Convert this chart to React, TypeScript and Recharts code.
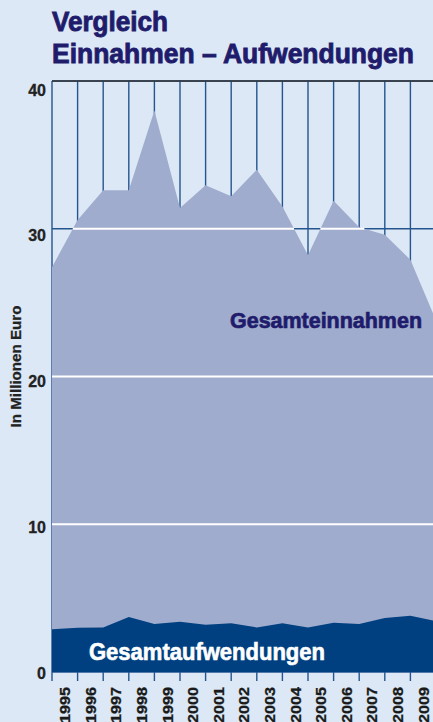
import React from "react";
import { AreaChart, Area, XAxis, YAxis, CartesianGrid, ReferenceLine, Label } from "recharts";

// Jahre (Beschriftung zwischen den Stützstellen)
const years = ["1995", "1996", "1997", "1998", "1999", "2000", "2001", "2002", "2003", "2004", "2005", "2006", "2007", "2008", "2009"];
// Gesamteinnahmen in Mio. Euro, 16 Stützstellen (Jahresgrenzen)
const einnahmen = [27.4, 30.6, 32.6, 32.6, 38.0, 31.4, 32.95, 32.2, 34.0, 31.5, 28.2, 31.9, 30.1, 29.6, 27.9, 23.8];
// Gesamtaufwendungen in Mio. Euro
const aufwendungen = [2.9, 3.0, 3.02, 3.72, 3.25, 3.4, 3.2, 3.3, 3.02, 3.3, 3.02, 3.34, 3.25, 3.65, 3.81, 3.45];
const yTicks = [0, 10, 20, 30, 40];

const data = einnahmen.map((v, i) => ({ i, einnahmen: v, aufwendungen: aufwendungen[i] }));
const xTicks = einnahmen.map((_, i) => i);

const CHART_W = 440;
const CHART_H = 722;
const Y_AXIS_W = 52;
const RIGHT = 4;
const STEP = (CHART_W - Y_AXIS_W - RIGHT) / (einnahmen.length - 1);

const NAVY = "#1f1c6c";
const GRID_BLUE = "#24558f";
const FONT = "'Liberation Sans', Arial, sans-serif";
const NARROW = "'Liberation Sans Narrow', 'Liberation Sans', sans-serif";

// Abschnitte, in denen die Einnahmenfläche über einer Gitterlinie liegt
function segmentsAbove(values: number[], level: number) {
  const segs: [number, number][] = [];
  let start: number | null = values[0] >= level ? 0 : null;
  for (let i = 0; i < values.length - 1; i++) {
    const a = values[i];
    const b = values[i + 1];
    if (a < level !== b < level) {
      const t = i + (level - a) / (b - a);
      if (start === null) start = t;
      else {
        segs.push([start, t]);
        start = null;
      }
    }
  }
  if (start !== null) segs.push([start, values.length - 1]);
  return segs;
}

function YearTick({ x, y, payload }: any) {
  const label = years[payload.value];
  if (!label) return null;
  const cx = x + STEP / 2;
  const ty = y + 4;
  return (
    <text
      x={cx}
      y={ty}
      transform={`rotate(-90, ${cx}, ${ty})`}
      textAnchor="end"
      dy="0.36em"
      fontSize={15}
      fontWeight={700}
      fill="#1a1a1a"
      stroke="#1a1a1a"
      strokeWidth={0.3}
      fontFamily={FONT}
      textLength={36}
      lengthAdjust="spacingAndGlyphs"
    >
      {label}
    </text>
  );
}

function ValueTick({ x, y, payload }: any) {
  return (
    <text
      x={x}
      y={y + 1 + payload.value * 0.2}
      textAnchor="end"
      dy="0.355em"
      fontSize={16}
      fontWeight={700}
      fill="#222"
      stroke="#222"
      strokeWidth={0.3}
      fontFamily={FONT}
    >
      {payload.value}
    </text>
  );
}

function AxisTitle({ viewBox }: any) {
  const cx = viewBox.x + 16;
  const cy = viewBox.y + viewBox.height / 2 - 10;
  return (
    <text
      x={cx}
      y={cy}
      transform={`rotate(-90, ${cx}, ${cy})`}
      textAnchor="middle"
      dy="0.36em"
      fontSize={14}
      fontWeight={700}
      fill="#222"
      stroke="#222"
      strokeWidth={0.25}
      fontFamily={FONT}
      textLength={122}
      lengthAdjust="spacingAndGlyphs"
    >
      In Millionen Euro
    </text>
  );
}

export default function App() {
  const whiteLines = [10, 20, 30].flatMap((lvl) => segmentsAbove(einnahmen, lvl).map((s) => ({ lvl, s })));

  return (
    <div
      style={{
        position: "absolute",
        left: 0,
        top: 0,
        width: 433,
        height: 722,
        overflow: "hidden",
        background: "#dce8f5",
      }}
    >
      <AreaChart width={CHART_W} height={CHART_H} data={data} margin={{ top: 81, right: RIGHT, bottom: 0, left: 0 }}>
        <CartesianGrid stroke={GRID_BLUE} strokeWidth={1.4} />
        <XAxis
          dataKey="i"
          type="number"
          domain={[0, einnahmen.length - 1]}
          ticks={xTicks}
          interval={0}
          height={50}
          axisLine={false}
          tickSize={9}
          tickMargin={2}
          tickLine={{ stroke: GRID_BLUE, strokeWidth: 1.4 }}
          tick={<YearTick />}
        />
        <YAxis
          type="number"
          domain={[0, 40]}
          ticks={yTicks}
          width={Y_AXIS_W}
          axisLine={false}
          tickLine={false}
          tickSize={0}
          tickMargin={6}
          tick={<ValueTick />}
        >
          <Label content={<AxisTitle />} />
        </YAxis>
        <Area dataKey="einnahmen" type="linear" fill="#a0accd" fillOpacity={1} stroke="none" isAnimationActive={false} />
        <Area dataKey="aufwendungen" type="linear" fill="#004080" fillOpacity={1} stroke="none" isAnimationActive={false} />
        {whiteLines.map(({ lvl, s }, k) => (
          <ReferenceLine
            key={k}
            segment={[
              { x: s[0], y: lvl },
              { x: s[1], y: lvl },
            ]}
            stroke="#ffffff"
            strokeWidth={2}
          />
        ))}
        <ReferenceLine y={40} stroke="#333333" strokeWidth={1.6} />
      </AreaChart>
      <svg width={433} height={722} style={{ position: "absolute", left: 0, top: 0, pointerEvents: "none" }}>
        <g fontFamily={NARROW} fontWeight={700}>
          <text x={52} y={31} fontSize={28} fill={NAVY} stroke={NAVY} strokeWidth={0.9} textLength={116} lengthAdjust="spacingAndGlyphs">
            Vergleich
          </text>
          <text x={52} y={63} fontSize={28} fill={NAVY} stroke={NAVY} strokeWidth={0.9} textLength={362} lengthAdjust="spacingAndGlyphs">
            Einnahmen – Aufwendungen
          </text>
          <text x={230} y={328} fontSize={22} fill={NAVY} stroke={NAVY} strokeWidth={0.7} textLength={192} lengthAdjust="spacingAndGlyphs">
            Gesamteinnahmen
          </text>
          <text x={89} y={660} fontSize={23} fill="#ffffff" stroke="#ffffff" strokeWidth={0.6} textLength={236} lengthAdjust="spacingAndGlyphs">
            Gesamtaufwendungen
          </text>
        </g>
      </svg>
    </div>
  );
}
